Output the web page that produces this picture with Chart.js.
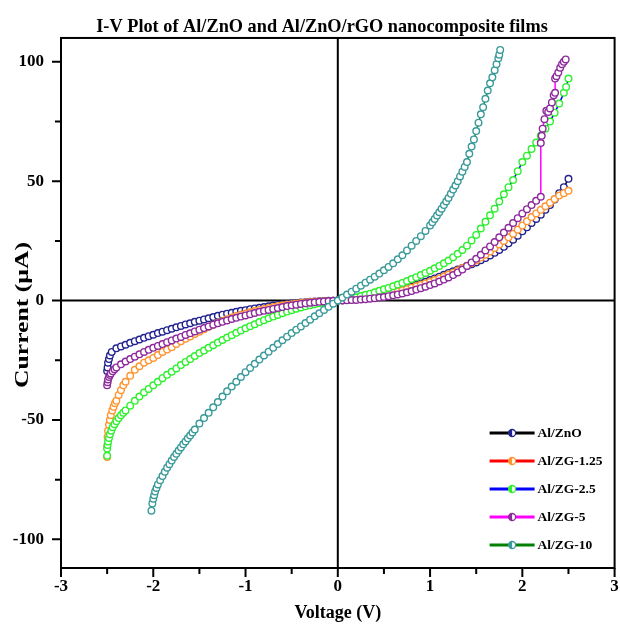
<!DOCTYPE html>
<html>
<head>
<meta charset="utf-8">
<title>I-V Plot</title>
<script src="https://cdn.jsdelivr.net/npm/chart.js@4.4.1/dist/chart.umd.min.js"></script>
<style>
  body { margin: 0; background: #fff; }
  canvas { display: block; }
</style>
</head>
<body>
<canvas id="graphique-iv" width="620" height="624"></canvas>
<script>
// valeurs (tension en V, courant en µA)
const noms = ["Al/ZnO", "Al/ZG-1.25", "Al/ZG-2.5", "Al/ZG-5", "Al/ZG-10"];

// Al/ZnO
const znoV = [
  -2.5, -2.495, -2.49, -2.48, -2.47, -2.45, -2.4, -2.35, -2.3, -2.25, -2.2, -2.15, -2.1, -2.05,
  -2.0, -1.95, -1.9, -1.85, -1.8, -1.75, -1.7, -1.65, -1.6, -1.55,
  -1.5, -1.45, -1.4, -1.35, -1.3, -1.25, -1.2, -1.15, -1.1, -1.05,
  -1.0, -0.95, -0.9, -0.85, -0.8, -0.75, -0.7, -0.65, -0.6, -0.55,
  -0.5, -0.45, -0.4, -0.35, -0.3, -0.25, -0.2, -0.15, -0.1, -0.05,
  0, 0.05, 0.1, 0.15, 0.2, 0.25, 0.3, 0.35, 0.4, 0.45,
  0.5, 0.55, 0.6, 0.65, 0.7, 0.75, 0.8, 0.85, 0.9, 0.95,
  1.0, 1.05, 1.1, 1.15, 1.2, 1.25, 1.3, 1.35, 1.4, 1.45,
  1.5, 1.55, 1.6, 1.65, 1.7, 1.75, 1.8, 1.85, 1.9, 1.95,
  2.0, 2.05, 2.1, 2.15, 2.2, 2.25, 2.3, 2.35, 2.4, 2.45,
  2.5];
const znoI = [
  -29.5, -28, -26, -24.5, -23, -21.5, -20, -19.2, -18.5, -17.7, -17, -16.3, -15.6, -14.9,
  -14.3, -13.6, -13, -12.4, -11.8, -11.2, -10.6, -10, -9.5, -8.9,
  -8.4, -7.9, -7.4, -6.9, -6.4, -5.9, -5.5, -5.1, -4.7, -4.3,
  -4, -3.6, -3.3, -3, -2.7, -2.4, -2.1, -1.8, -1.6, -1.4,
  -1.2, -1, -0.8, -0.65, -0.5, -0.4, -0.3, -0.2, -0.1, -0.05,
  0, 0.15, 0.3, 0.5, 0.7, 0.95, 1.2, 1.5, 1.8, 2.2,
  2.6, 3, 3.5, 4, 4.6, 5.2, 5.8, 6.5, 7.2, 7.9,
  8.6, 9.3, 10, 10.8, 11.6, 12.3, 13, 13.7, 14.5, 15.2,
  16, 16.9, 17.8, 18.9, 20, 21.2, 22.5, 24, 25.5, 27.2,
  29, 30.7, 32.5, 34.2, 36, 38, 40, 42.3, 45, 47.5,
  51];

// Al/ZG-1.25
const zg125V = [
  -2.5, -2.5, -2.495, -2.49, -2.48, -2.47, -2.46, -2.445, -2.43, -2.415, -2.4, -2.375, -2.35, -2.325, -2.3, -2.25, -2.2, -2.15, -2.1, -2.05,
  -2.0, -1.95, -1.9, -1.85, -1.8, -1.75, -1.7, -1.65, -1.6, -1.55,
  -1.5, -1.45, -1.4, -1.35, -1.3, -1.25, -1.2, -1.15, -1.1, -1.05,
  -1.0, -0.95, -0.9, -0.85, -0.8, -0.75, -0.7, -0.65, -0.6, -0.55,
  -0.5, -0.45, -0.4, -0.35, -0.3, -0.25, -0.2, -0.15, -0.1, -0.05,
  0, 0.05, 0.1, 0.15, 0.2, 0.25, 0.3, 0.35, 0.4, 0.45,
  0.5, 0.55, 0.6, 0.65, 0.7, 0.75, 0.8, 0.85, 0.9, 0.95,
  1.0, 1.05, 1.1, 1.15, 1.2, 1.25, 1.3, 1.35, 1.4, 1.45,
  1.5, 1.55, 1.6, 1.65, 1.7, 1.75, 1.8, 1.85, 1.9, 1.95,
  2.0, 2.05, 2.1, 2.15, 2.2, 2.25, 2.3, 2.35, 2.4, 2.45,
  2.5];
const zg125I = [
  -65.5, -61, -57, -54.5, -52, -50, -48, -46, -44.5, -43, -42, -39.5, -37.5, -35.5, -34, -31.5, -29, -27.5, -26, -25,
  -24, -22.8, -21.5, -20.5, -19.5, -18.2, -17, -16, -15, -14,
  -13, -12, -11, -10.1, -9.3, -8.5, -7.8, -7.1, -6.5, -5.9,
  -5.4, -4.9, -4.4, -3.9, -3.5, -3.1, -2.7, -2.3, -2, -1.75,
  -1.5, -1.25, -1, -0.8, -0.6, -0.45, -0.35, -0.25, -0.15, -0.07,
  0, 0.15, 0.3, 0.5, 0.7, 0.95, 1.2, 1.5, 1.8, 2.15,
  2.5, 2.9, 3.3, 3.8, 4.3, 4.8, 5.4, 6, 6.6, 7.2,
  7.9, 8.6, 9.3, 10.1, 10.9, 11.7, 12.6, 13.6, 14.6, 15.7,
  16.8, 18, 19.2, 20.6, 22, 23.5, 25, 26.5, 28, 29.7,
  31.5, 33.2, 35, 36.5, 38, 39.5, 41, 42.5, 44, 45,
  46];

// Al/ZG-2.5
const zg25V = [
  -2.5, -2.5, -2.495, -2.49, -2.48, -2.47, -2.455, -2.44, -2.42, -2.4, -2.375, -2.35, -2.325, -2.3, -2.25, -2.2, -2.15, -2.1, -2.05,
  -2.0, -1.95, -1.9, -1.85, -1.8, -1.75, -1.7, -1.65, -1.6, -1.55,
  -1.5, -1.45, -1.4, -1.35, -1.3, -1.25, -1.2, -1.15, -1.1, -1.05,
  -1.0, -0.95, -0.9, -0.85, -0.8, -0.75, -0.7, -0.65, -0.6, -0.55,
  -0.5, -0.45, -0.4, -0.35, -0.3, -0.25, -0.2, -0.15, -0.1, -0.05,
  0, 0.05, 0.1, 0.15, 0.2, 0.25, 0.3, 0.35, 0.4, 0.45,
  0.5, 0.55, 0.6, 0.65, 0.7, 0.75, 0.8, 0.85, 0.9, 0.95,
  1.0, 1.05, 1.1, 1.15, 1.2, 1.25, 1.3, 1.35, 1.4, 1.45,
  1.5, 1.55, 1.6, 1.65, 1.7, 1.75, 1.8, 1.85, 1.9, 1.95,
  2.0, 2.05, 2.1, 2.15, 2.2, 2.25, 2.3, 2.35, 2.4, 2.45,
  2.475, 2.5];
const zg25I = [
  -65, -62, -60.5, -59, -57.5, -56, -54.5, -53, -51.8, -50.5, -49.2, -48, -47, -46, -44, -42, -40.2, -38.5, -37,
  -35.5, -34, -32.5, -31.1, -29.8, -28.4, -27, -25.7, -24.5, -23.2,
  -22, -20.9, -19.8, -18.7, -17.6, -16.5, -15.5, -14.5, -13.5, -12.5,
  -11.6, -10.7, -9.9, -9, -8.2, -7.4, -6.7, -6, -5.3, -4.6,
  -4, -3.4, -2.9, -2.4, -1.9, -1.5, -1.1, -0.8, -0.5, -0.25,
  0, 0.3, 0.6, 1, 1.4, 1.9, 2.4, 2.9, 3.5, 4.1,
  4.7, 5.3, 6, 6.7, 7.4, 8.2, 9, 9.8, 10.7, 11.6,
  12.5, 13.5, 14.5, 15.6, 16.8, 18.2, 19.6, 21.2, 23, 25.2,
  27.5, 30.2, 33, 35.7, 38.5, 41.5, 44.5, 47.5, 50.5, 54.2,
  58, 60.7, 63.5, 66.2, 69, 72, 75, 78.7, 82.5, 87,
  89.5, 93];

// Al/ZG-5 (saut vers 2.2 V)
const zg5V = [
  -2.5, -2.495, -2.49, -2.48, -2.47, -2.46, -2.44, -2.42, -2.4, -2.35, -2.3, -2.25, -2.2, -2.15, -2.1, -2.05,
  -2.0, -1.95, -1.9, -1.85, -1.8, -1.75, -1.7, -1.65, -1.6, -1.55,
  -1.5, -1.45, -1.4, -1.35, -1.3, -1.25, -1.2, -1.15, -1.1, -1.05,
  -1.0, -0.95, -0.9, -0.85, -0.8, -0.75, -0.7, -0.65, -0.6, -0.55,
  -0.5, -0.45, -0.4, -0.35, -0.3, -0.25, -0.2, -0.15, -0.1, -0.05,
  0, 0.05, 0.1, 0.15, 0.2, 0.25, 0.3, 0.35, 0.4, 0.45,
  0.5, 0.55, 0.6, 0.65, 0.7, 0.75, 0.8, 0.85, 0.9, 0.95,
  1.0, 1.05, 1.1, 1.15, 1.2, 1.25, 1.3, 1.35, 1.4, 1.45,
  1.5, 1.55, 1.6, 1.65, 1.7, 1.75, 1.8, 1.85, 1.9, 1.95,
  2.0, 2.05, 2.1, 2.15, 2.2,
  2.2, 2.21, 2.22, 2.24, 2.26, 2.28, 2.3, 2.32, 2.34, 2.355, 2.355, 2.37, 2.39, 2.41, 2.43, 2.45, 2.47];
const zg5I = [
  -35.5, -34.2, -33, -32, -31.2, -30.5, -29.6, -28.8, -28, -26.7, -25.5, -24.5, -23.5, -22.5, -21.5, -20.6,
  -19.8, -19, -18.2, -17.4, -16.7, -15.9, -15.2, -14.4, -13.7, -12.9,
  -12.2, -11.5, -10.8, -10.1, -9.5, -8.9, -8.3, -7.7, -7.2, -6.7,
  -6.2, -5.7, -5.2, -4.7, -4.3, -3.9, -3.5, -3.1, -2.7, -2.3,
  -2, -1.7, -1.4, -1.15, -0.9, -0.7, -0.5, -0.35, -0.2, -0.1,
  0, 0.05, 0.1, 0.2, 0.3, 0.45, 0.6, 0.8, 1, 1.25,
  1.5, 1.85, 2.2, 2.6, 3, 3.5, 4, 4.6, 5.2, 5.8,
  6.5, 7.2, 8, 8.8, 9.7, 10.7, 11.8, 13, 14.5, 16,
  17.5, 19.2, 21, 22.7, 24.5, 26.5, 28.5, 30.5, 32.5, 34.5,
  36.5, 38.3, 40, 41.8, 43.5,
  66, 69, 72, 76, 79.5, 79, 80.5, 83, 86, 87, 93, 94, 95.5, 97.5, 99, 100, 101];

// Al/ZG-10
const zg10V = [
  -2.02, -2.01, -2.0, -1.99, -1.98, -1.965, -1.95, -1.925, -1.9, -1.875, -1.85, -1.825, -1.8, -1.775, -1.75, -1.725, -1.7, -1.675, -1.65, -1.625, -1.6, -1.575, -1.55,
  -1.5, -1.45, -1.4, -1.35, -1.3, -1.25, -1.2, -1.15, -1.1, -1.05,
  -1.0, -0.95, -0.9, -0.85, -0.8, -0.75, -0.7, -0.65, -0.6, -0.55,
  -0.5, -0.45, -0.4, -0.35, -0.3, -0.25, -0.2, -0.15, -0.1, -0.05,
  0, 0.05, 0.1, 0.15, 0.2, 0.25, 0.3, 0.35, 0.4, 0.45,
  0.5, 0.55, 0.6, 0.65, 0.7, 0.75, 0.8, 0.85, 0.9, 0.95,
  1.0, 1.025, 1.05, 1.075, 1.1, 1.125, 1.15, 1.175, 1.2, 1.225, 1.25, 1.275, 1.3, 1.325, 1.35, 1.375, 1.4, 1.425, 1.45, 1.475, 1.5,
  1.525, 1.55, 1.575, 1.6, 1.625, 1.65, 1.675, 1.7, 1.72, 1.74, 1.75, 1.76];
const zg10I = [
  -88, -85, -83, -81.5, -80, -78.5, -77, -75.2, -73.5, -71.7, -70, -68.5, -67, -65.5, -64.2, -62.8, -61.5, -60.2, -59, -57.7, -56.5, -55.2, -54,
  -51.5, -49.2, -47, -44.7, -42.5, -40.2, -38, -36, -34, -32,
  -30, -28.2, -26.5, -24.7, -23, -21.4, -19.8, -18.2, -16.6, -15.1,
  -13.6, -12.2, -10.8, -9.4, -8, -6.6, -5.3, -3.9, -2.6, -1.3,
  0, 1.25, 2.5, 3.75, 5, 6.25, 7.5, 8.75, 10, 11.3,
  12.7, 14.1, 15.6, 17.3, 19, 21, 23, 25, 27, 29.2,
  31.5, 32.8, 34.2, 35.6, 37, 38.5, 40, 41.5, 43, 44.7, 46.5, 48.2, 50, 52, 54, 56, 58, 61.5, 64.5, 67.5, 71,
  74.5, 78, 81, 84.5, 88, 91, 93.5, 96.5, 99, 101.5, 103, 105];

// graduations des axes
const xTicks = [-3, -2, -1, 0, 1, 2, 3];
const yTicks = [-100, -50, 0, 50, 100];

// couleurs : trait / symbole
const couleursTrait = ["#000000", "#ff0000", "#0000ff", "#ff00ff", "#008000"];
const couleursSymbole = ["#23238f", "#ff9430", "#2ef02e", "#8d2a9c", "#3a9a9a"];

const police = '"Liberation Serif", "Times New Roman", serif';

function points(vs, is) {
  return vs.map((v, i) => ({ x: v, y: is[i] }));
}

const series = [
  points(znoV, znoI),
  points(zg125V, zg125I),
  points(zg25V, zg25I),
  points(zg5V, zg5I),
  points(zg10V, zg10I),
];

const datasets = series.map((pts, i) => ({
  label: noms[i],
  data: pts,
  showLine: true,
  borderColor: couleursTrait[i],
  borderWidth: 1.5,
  pointRadius: 3.3,
  pointBorderWidth: 1.4,
  pointBorderColor: couleursSymbole[i],
  pointBackgroundColor: "#ffffff",
  tension: 0,
  order: 5 - i, // le dernier dessiné au dessus
}));

// cadre, lignes zero, graduations, titre vertical et legende
const cadre = {
  id: "cadre",
  afterLayout(chart) {
    // titre centré un peu à droite comme sur la figure
    chart.titleBlock.left += 24;
  },
  beforeDatasetsDraw(chart) {
    const { ctx, chartArea: a, scales } = chart;
    const x0 = scales.x.getPixelForValue(0);
    const y0 = scales.y.getPixelForValue(0);
    ctx.save();
    ctx.strokeStyle = "#000";
    ctx.lineWidth = 2;
    ctx.beginPath();
    ctx.moveTo(x0, a.top);
    ctx.lineTo(x0, a.bottom);
    ctx.moveTo(a.left, y0);
    ctx.lineTo(a.right, y0);
    ctx.stroke();
    ctx.restore();
  },
  afterDraw(chart) {
    const { ctx, chartArea: a, scales } = chart;
    ctx.save();
    ctx.strokeStyle = "#000";
    ctx.lineWidth = 2;
    ctx.strokeRect(a.left, a.top, a.right - a.left, a.bottom - a.top);

    ctx.beginPath();
    for (let i = 0; i < xTicks.length; i++) {
      const px = scales.x.getPixelForValue(xTicks[i]);
      ctx.moveTo(px, a.bottom);
      ctx.lineTo(px, a.bottom + 9);
      if (i < xTicks.length - 1) {
        const pm = scales.x.getPixelForValue((xTicks[i] + xTicks[i + 1]) / 2);
        ctx.moveTo(pm, a.bottom);
        ctx.lineTo(pm, a.bottom + 6);
      }
    }
    for (let i = 0; i < yTicks.length; i++) {
      const py = scales.y.getPixelForValue(yTicks[i]);
      ctx.moveTo(a.left, py);
      ctx.lineTo(a.left - 9, py);
      if (i < yTicks.length - 1) {
        const pm = scales.y.getPixelForValue((yTicks[i] + yTicks[i + 1]) / 2);
        ctx.moveTo(a.left, pm);
        ctx.lineTo(a.left - 6, pm);
      }
    }
    ctx.stroke();

    // titre de l'axe y (etire comme sur l'image)
    ctx.save();
    ctx.translate(23, 315);
    ctx.rotate(-Math.PI / 2);
    ctx.scale(1.35, 1);
    ctx.font = "bold 19px " + police;
    ctx.fillStyle = "#000";
    ctx.textAlign = "center";
    ctx.textBaseline = "middle";
    ctx.fillText("Current (µA)", 0, 0);
    ctx.restore();

    // legende
    const lx = a.right - 125;
    let ly = a.bottom - 135;
    ctx.font = "bold 13.5px " + police;
    ctx.textBaseline = "middle";
    ctx.textAlign = "left";
    chart.data.datasets.forEach((ds, i) => {
      ctx.strokeStyle = couleursTrait[i];
      ctx.lineWidth = 3;
      ctx.beginPath();
      ctx.moveTo(lx, ly);
      ctx.lineTo(lx + 45, ly);
      ctx.stroke();
      const cx = lx + 22.5;
      ctx.fillStyle = "#fff";
      ctx.beginPath();
      ctx.arc(cx, ly, 3.5, 0, Math.PI * 2);
      ctx.fill();
      ctx.fillStyle = couleursSymbole[i];
      ctx.beginPath();
      ctx.arc(cx, ly, 3.5, Math.PI / 2, Math.PI * 1.5);
      ctx.fill();
      ctx.strokeStyle = couleursSymbole[i];
      ctx.lineWidth = 1.3;
      ctx.beginPath();
      ctx.arc(cx, ly, 3.5, 0, Math.PI * 2);
      ctx.stroke();
      ctx.fillStyle = "#000";
      ctx.fillText(ds.label, lx + 48, ly + 1);
      ly += 28;
    });
    ctx.restore();
  },
};

const fontTicks = { family: police, size: 17, weight: "bold" };
const fontTitre = { family: police, size: 18, weight: "bold" };

new Chart(document.querySelector("#graphique-iv"), {
  type: "scatter",
  data: { datasets: datasets },
  options: {
    responsive: false,
    animation: false,
    layout: { padding: { left: 0, right: 0, top: 0, bottom: 0 } },
    plugins: {
      legend: { display: false },
      tooltip: { enabled: false },
      title: {
        display: true,
        text: "I-V Plot of Al/ZnO and Al/ZnO/rGO nanocomposite films",
        color: "#000",
        font: { family: police, size: 18.3, weight: "bold" },
        padding: { top: 16, bottom: 0 },
      },
    },
    scales: {
      x: {
        type: "linear",
        min: -3,
        max: 3,
        afterBuildTicks: (s) => { s.ticks = xTicks.map((v) => ({ value: v })); },
        afterFit: (s) => { s.height = 56; s.paddingRight = 5; s.paddingLeft = 5; },
        ticks: { color: "#000", font: fontTicks, padding: 8, maxRotation: 0, autoSkip: false },
        grid: { display: false, drawTicks: false },
        border: { display: false },
        title: { display: true, text: "Voltage (V)", color: "#000", font: fontTitre, padding: 0 },
      },
      y: {
        type: "linear",
        min: -112,
        max: 110,
        afterBuildTicks: (s) => { s.ticks = yTicks.map((v) => ({ value: v })); },
        afterFit: (s) => { s.width = 61; },
        ticks: { color: "#000", font: fontTicks, padding: 17, autoSkip: false },
        grid: { display: false, drawTicks: false },
        border: { display: false },
        title: { display: false },
      },
    },
  },
  plugins: [cadre],
});
</script>
</body>
</html>
